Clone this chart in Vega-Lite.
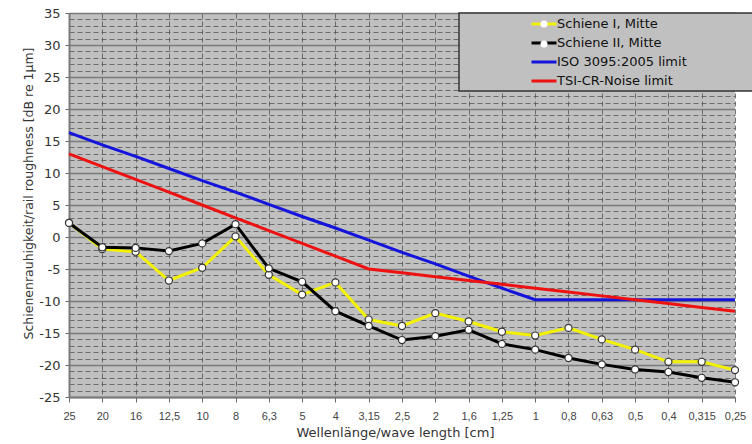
{
  "$schema": "https://vega.github.io/schema/vega-lite/v6.json",
  "width": 666,
  "height": 384,
  "autosize": "none",
  "padding": {"left": 69, "top": 13, "right": 17, "bottom": 47},
  "background": "white",
  "config": {"view": {"fill": "#c0c0c0", "stroke": null}, "legend": {"strokeWidth": 1.5}},
  "data": {"values": [
    {"wl": "25", "Schiene I, Mitte": 2.2, "Schiene II, Mitte": 2.2, "ISO 3095:2005 limit": 16.3, "TSI-CR-Noise limit": 13},
    {"wl": "20", "Schiene I, Mitte": -1.9, "Schiene II, Mitte": -1.6, "ISO 3095:2005 limit": 14.4, "TSI-CR-Noise limit": 11},
    {"wl": "16", "Schiene I, Mitte": -2.3, "Schiene II, Mitte": -1.7, "ISO 3095:2005 limit": 12.6, "TSI-CR-Noise limit": 9},
    {"wl": "12,5", "Schiene I, Mitte": -6.8, "Schiene II, Mitte": -2.2, "ISO 3095:2005 limit": 10.7, "TSI-CR-Noise limit": 7},
    {"wl": "10", "Schiene I, Mitte": -4.8, "Schiene II, Mitte": -1.0, "ISO 3095:2005 limit": 8.8, "TSI-CR-Noise limit": 5},
    {"wl": "8", "Schiene I, Mitte": 0.1, "Schiene II, Mitte": 2.0, "ISO 3095:2005 limit": 7.0, "TSI-CR-Noise limit": 3},
    {"wl": "6,3", "Schiene I, Mitte": -5.9, "Schiene II, Mitte": -4.9, "ISO 3095:2005 limit": 5.1, "TSI-CR-Noise limit": 1},
    {"wl": "5", "Schiene I, Mitte": -9.0, "Schiene II, Mitte": -7.0, "ISO 3095:2005 limit": 3.2, "TSI-CR-Noise limit": -1},
    {"wl": "4", "Schiene I, Mitte": -7.1, "Schiene II, Mitte": -11.6, "ISO 3095:2005 limit": 1.4, "TSI-CR-Noise limit": -3},
    {"wl": "3,15", "Schiene I, Mitte": -12.9, "Schiene II, Mitte": -13.9, "ISO 3095:2005 limit": -0.5, "TSI-CR-Noise limit": -5},
    {"wl": "2,5", "Schiene I, Mitte": -13.9, "Schiene II, Mitte": -16.1, "ISO 3095:2005 limit": -2.4, "TSI-CR-Noise limit": -5.6},
    {"wl": "2", "Schiene I, Mitte": -11.9, "Schiene II, Mitte": -15.5, "ISO 3095:2005 limit": -4.2, "TSI-CR-Noise limit": -6.2},
    {"wl": "1,6", "Schiene I, Mitte": -13.2, "Schiene II, Mitte": -14.5, "ISO 3095:2005 limit": -6.1, "TSI-CR-Noise limit": -6.8},
    {"wl": "1,25", "Schiene I, Mitte": -14.8, "Schiene II, Mitte": -16.7, "ISO 3095:2005 limit": -8.0, "TSI-CR-Noise limit": -7.4},
    {"wl": "1", "Schiene I, Mitte": -15.4, "Schiene II, Mitte": -17.6, "ISO 3095:2005 limit": -9.8, "TSI-CR-Noise limit": -8.0},
    {"wl": "0,8", "Schiene I, Mitte": -14.2, "Schiene II, Mitte": -18.9, "ISO 3095:2005 limit": -9.8, "TSI-CR-Noise limit": -8.6},
    {"wl": "0,63", "Schiene I, Mitte": -16.0, "Schiene II, Mitte": -19.9, "ISO 3095:2005 limit": -9.8, "TSI-CR-Noise limit": -9.2},
    {"wl": "0,5", "Schiene I, Mitte": -17.6, "Schiene II, Mitte": -20.7, "ISO 3095:2005 limit": -9.8, "TSI-CR-Noise limit": -9.8},
    {"wl": "0,4", "Schiene I, Mitte": -19.5, "Schiene II, Mitte": -21.1, "ISO 3095:2005 limit": -9.8, "TSI-CR-Noise limit": -10.4},
    {"wl": "0,315", "Schiene I, Mitte": -19.5, "Schiene II, Mitte": -22.0, "ISO 3095:2005 limit": -9.8, "TSI-CR-Noise limit": -11.0},
    {"wl": "0,25", "Schiene I, Mitte": -20.8, "Schiene II, Mitte": -22.7, "ISO 3095:2005 limit": -9.8, "TSI-CR-Noise limit": -11.6}
  ]},
  "transform": [
    {"fold": ["Schiene I, Mitte", "Schiene II, Mitte", "ISO 3095:2005 limit", "TSI-CR-Noise limit"], "as": ["series", "value"]}
  ],
  "encoding": {
    "x": {
      "field": "wl", "type": "ordinal",
      "scale": {"type": "point", "padding": 0, "domain": ["25","20","16","12,5","10","8","6,3","5","4","3,15","2,5","2","1,6","1,25","1","0,8","0,63","0,5","0,4","0,315","0,25"]},
      "axis": {
        "title": "Wellenlänge/wave length [cm]",
        "titleFont": "DejaVu Sans", "titleFontSize": 13, "titleFontWeight": "normal", "titleColor": "#333",
        "titleX": 326, "titleY": 39, "titleBaseline": "alphabetic", "titleAlign": "center",
        "labelFont": "Liberation Sans", "labelFontSize": 11, "labelColor": "#444", "labelAngle": 0, "labelPadding": 8,
        "tickSize": 5, "tickColor": "#666",
        "domainColor": "#7a7a7a", "domainWidth": 2,
        "grid": true, "gridColor": "#555", "gridDash": [5, 3], "gridWidth": 0.8
      }
    },
    "y": {
      "field": "value", "type": "quantitative",
      "scale": {"domain": [-25, 35], "nice": false, "zero": false},
      "axis": {
        "title": "Schienenrauhigkeit/rail roughness [dB re 1µm]",
        "values": [-25,-24,-23,-22,-21,-20,-19,-18,-17,-16,-15,-14,-13,-12,-11,-10,-9,-8,-7,-6,-5,-4,-3,-2,-1,0,1,2,3,4,5,6,7,8,9,10,11,12,13,14,15,16,17,18,19,20,21,22,23,24,25,26,27,28,29,30,31,32,33,34,35],
        "labelExpr": "datum.value % 5 === 0 ? '' + datum.value : ''",
        "labelFont": "DejaVu Sans", "labelFontSize": 13, "labelColor": "#333", "labelPadding": 5,
        "tickSize": 4, "tickColor": "#666",
        "tickOpacity": {"condition": {"test": "datum.value % 5 === 0", "value": 1}, "value": 0},
        "grid": true,
        "gridDash": {"condition": {"test": "datum.value % 5 === 0", "value": []}, "value": [5, 3]},
        "gridColor": {"condition": {"test": "datum.value % 5 === 0", "value": "#7a7a7a"}, "value": "#555"},
        "gridWidth": {"condition": {"test": "datum.value % 5 === 0", "value": 1.5}, "value": 0.8},
        "domainColor": "#7a7a7a", "domainWidth": 2,
        "titleFont": "DejaVu Sans", "titleFontSize": 12.5, "titleFontWeight": "normal", "titleColor": "#333",
        "titleAngle": -90, "titleX": -41, "titleY": 180, "titleAlign": "center", "titleBaseline": "middle"
      }
    }
  },
  "layer": [
    {
      "mark": {"type": "line", "strokeWidth": 3},
      "encoding": {
        "color": {
          "field": "series", "type": "nominal",
          "scale": {"domain": ["Schiene I, Mitte", "Schiene II, Mitte", "ISO 3095:2005 limit", "TSI-CR-Noise limit"], "range": ["#f2f200", "#000000", "#1414dc", "#ee1111"]},
          "legend": {
            "title": " ", "titleOrient": "right", "titlePadding": 75,
            "orient": "none", "legendX": 390, "legendY": 0,
            "padding": 3, "rowPadding": 4,
            "fillColor": "#c0c0c0", "strokeColor": "#333",
            "labelFont": "DejaVu Sans", "labelFontSize": 13, "labelColor": "#111",
            "symbolType": "M-2,0H2", "symbolSize": 156, "symbolStrokeWidth": 3,
            "symbolOffset": 74, "labelOffset": 5
          }
        }
      }
    },
    {
      "transform": [{"filter": {"field": "series", "oneOf": ["Schiene I, Mitte", "Schiene II, Mitte"]}}],
      "mark": {"type": "point", "filled": true, "fill": "#ffffff", "stroke": "#333333", "strokeWidth": 1.2, "size": 50, "opacity": 1},
      "encoding": {
        "shape": {
          "field": "series", "type": "nominal",
          "scale": {"domain": ["Schiene I, Mitte", "Schiene II, Mitte"], "range": ["circle", "circle"]},
          "legend": {
            "title": null, "orient": "none", "legendX": 390, "legendY": 0, "zindex": 2,
            "padding": 3, "rowPadding": 4,
            "labelFontSize": 16, "labelExpr": "''",
            "symbolSize": 50, "symbolFillColor": "#ffffff", "symbolStrokeColor": "#333333", "symbolStrokeWidth": 1.2,
            "symbolOffset": 74
          }
        }
      }
    }
  ]
}
